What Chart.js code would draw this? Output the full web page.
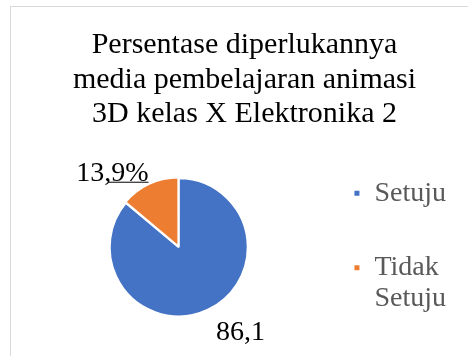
<!DOCTYPE html>
<html>
<head>
<meta charset="utf-8">
<script src="https://cdn.jsdelivr.net/npm/chart.js@4"></script>
<style>
  html, body { margin: 0; padding: 0; background: #fff; }
  body { width: 468px; height: 356px; overflow: hidden; position: relative; }
  #frame { position: absolute; left: 10px; top: 6px; width: 458px; height: 350px;
           border-left: 1px solid #d9d9d9; border-top: 1px solid #d9d9d9; box-sizing: border-box; }
  #wrap { position: absolute; left: 0; top: 0; width: 468px; height: 356px; }
</style>
</head>
<body>
<div id="frame"></div>
<div id="wrap"><canvas id="pie"></canvas></div>
<script>
// second empty line on the first label keeps the gap to the next legend entry
var categories = [['Setuju', ''], ['Tidak', 'Setuju']];
var values = [86.1, 13.9];
var valueLabels = ['86,1', '13,9%'];
var colors = ['#4472C4', '#ED7D31'];
var leaderLines = [false, true];

var serif = "'Liberation Serif', 'Times New Roman', serif";

// draws the value text next to each slice (like excel's outside labels)
var sliceLabels = {
    id: 'sliceLabels',
    afterLayout: function (chart) {
        // title sits a bit right of the canvas middle in the original
        chart.titleBlock.left += 16;
    },
    afterDatasetsDraw: function (chart) {
        var ctx = chart.ctx;
        var meta = chart.getDatasetMeta(0);
        ctx.save();
        ctx.font = '28px ' + serif;
        ctx.fillStyle = '#000';
        meta.data.forEach(function (arc, i) {
            var p = arc.getProps(['x', 'y', 'startAngle', 'endAngle', 'outerRadius']);
            var mid = (p.startAngle + p.endAngle) / 2;
            var cos = Math.cos(mid), sin = Math.sin(mid);
            if (leaderLines[i]) {
                var ax = p.x + cos * p.outerRadius;
                var ay = p.y + sin * p.outerRadius;
                ctx.strokeStyle = '#000';
                ctx.lineWidth = 1;
                ctx.beginPath();
                ctx.moveTo(ax - 1, ay - 2.5);
                ctx.lineTo(ax - 41, ay - 2.5);
                ctx.stroke();
                ctx.textAlign = 'right';
                ctx.textBaseline = 'alphabetic';
                ctx.fillText(valueLabels[i], ax - 1, ay - 4);
            } else {
                var r = p.outerRadius + 12;
                ctx.textAlign = 'left';
                ctx.textBaseline = 'top';
                ctx.fillText(valueLabels[i], p.x + cos * r + 3, p.y + sin * r - 2);
            }
        });
        ctx.restore();
    }
};

new Chart(document.getElementById('pie'), {
    type: 'pie',
    data: {
        labels: categories,
        datasets: [{
            data: values,
            backgroundColor: colors,
            borderColor: '#fff',
            borderWidth: 2,
            offset: [0, 3],
            radius: 69
        }]
    },
    options: {
        responsive: true,
        maintainAspectRatio: false,
        animation: false,
        layout: { padding: { left: 17, right: 12, top: 0, bottom: 0 } },
        plugins: {
            title: {
                display: true,
                text: ['Persentase diperlukannya', 'media pembelajaran animasi', '3D kelas X Elektronika 2'],
                color: '#000',
                font: { family: serif, size: 30, weight: 'normal', lineHeight: 1.15 },
                padding: { top: 28, bottom: 7 }
            },
            legend: {
                position: 'right',
                fullSize: false,
                labels: {
                    boxWidth: 7,
                    boxHeight: 7,
                    color: '#595959',
                    padding: 13,
                    font: { family: serif, size: 28, lineHeight: 1.1 }
                }
            },
            tooltip: { enabled: false }
        }
    },
    plugins: [sliceLabels]
});
</script>
</body>
</html>
